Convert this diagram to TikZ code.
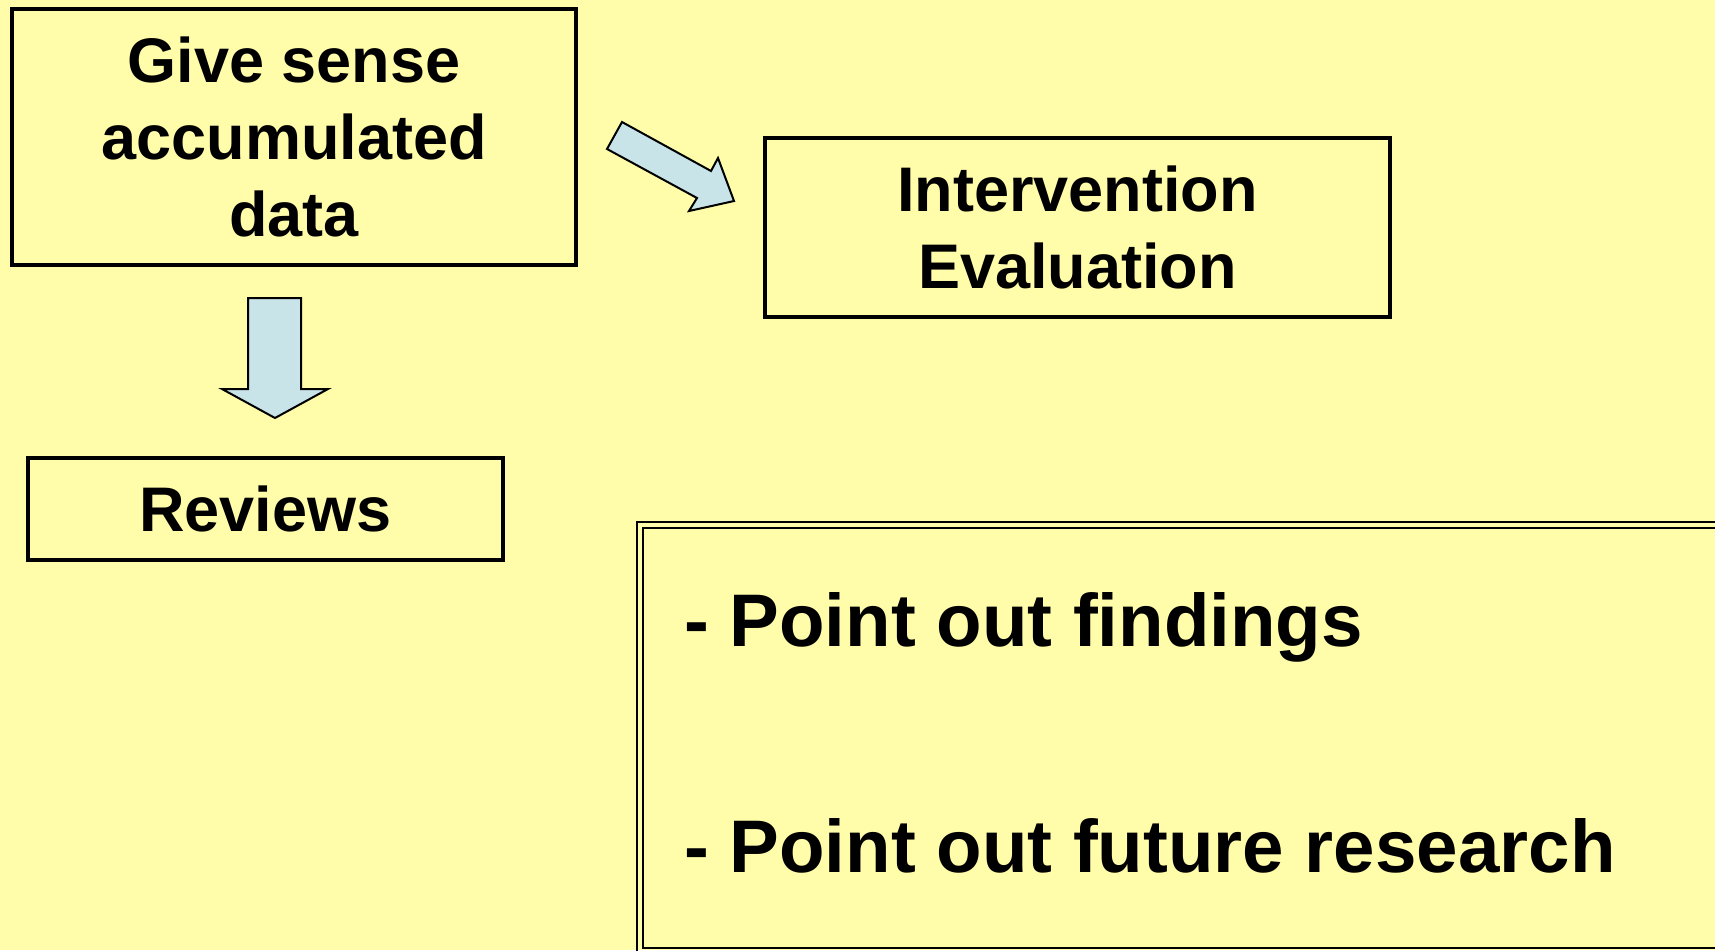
\documentclass[tikz,border=0pt]{standalone}
\usepackage{fontspec}
\setmainfont{Liberation Sans}
\definecolor{bgyellow}{RGB}{255,252,170}
\definecolor{arrowblue}{RGB}{200,228,232}
\begin{document}
\begin{tikzpicture}[x=1pt,y=-1pt,
  box/.style={draw=black,line width=3.8pt,inner sep=0pt,align=center,
    font=\bfseries\fontsize{63}{77}\selectfont},
  blockarrow/.style={fill=arrowblue,draw=black,line width=2pt,line join=miter},
  bigtext/.style={anchor=base west,inner sep=0pt,font=\bfseries\fontsize{74.5}{88}\selectfont}]
\useasboundingbox (0,0) rectangle (1715,950);
\fill[bgyellow] (0,0) rectangle (1715,950);
% boxes
\node[box,minimum width=564pt,minimum height=256pt] (give) at (294,137)
  {Give sense\\accumulated\\data};
\node[box,minimum width=625pt,minimum height=179pt] (interv) at (1077.5,227.5)
  {Intervention\\Evaluation};
\node[box,minimum width=475pt,minimum height=102pt] (reviews) at (265.5,509)
  {Reviews};
% block arrows
\draw[blockarrow] (248,298) -- (301,298) -- (301,389) -- (328,389) -- (275,418)
  -- (222,389) -- (248,389) -- cycle;
\draw[blockarrow] (622,122) -- (711,171) -- (718,158) -- (734,201) -- (689,211)
  -- (697,198) -- (607,149) -- cycle;
% double-framed box
\draw[line width=2.2pt] (637,522) rectangle (1735,956);
\draw[line width=2.2pt] (643,528) rectangle (1729,948);
\node[bigtext] (find) at (684,646) {- Point out findings};
\node[bigtext] (future) at (684,872) {- Point out future research};
\end{tikzpicture}
\end{document}
